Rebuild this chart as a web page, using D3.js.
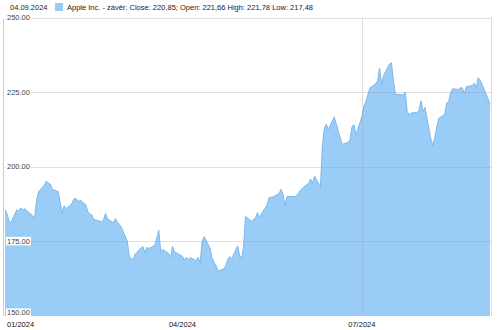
<!DOCTYPE html>
<html>
<head>
<meta charset="utf-8">
<script src="https://cdn.jsdelivr.net/npm/d3@7"></script>
<style>
  body { margin: 0; background: #fff; }
  svg { font-family: "Liberation Sans", Arial, sans-serif; }
</style>
</head>
<body>
<svg width="500" height="330"></svg>
<script>
// AAPL daily close, 02.01.2024 - 04.09.2024
const dates = [
  "2024-01-02","2024-01-03","2024-01-04","2024-01-05","2024-01-08","2024-01-09","2024-01-10","2024-01-11","2024-01-12","2024-01-16",
  "2024-01-17","2024-01-18","2024-01-19","2024-01-22","2024-01-23","2024-01-24","2024-01-25","2024-01-26","2024-01-29","2024-01-30",
  "2024-01-31","2024-02-01","2024-02-02","2024-02-05","2024-02-06","2024-02-07","2024-02-08","2024-02-09","2024-02-12","2024-02-13",
  "2024-02-14","2024-02-15","2024-02-16","2024-02-20","2024-02-21","2024-02-22","2024-02-23","2024-02-26","2024-02-27","2024-02-28",
  "2024-02-29","2024-03-01","2024-03-04","2024-03-05","2024-03-06","2024-03-07","2024-03-08","2024-03-11","2024-03-12","2024-03-13",
  "2024-03-14","2024-03-15","2024-03-18","2024-03-19","2024-03-20","2024-03-21","2024-03-22","2024-03-25","2024-03-26","2024-03-27",
  "2024-03-28","2024-04-01","2024-04-02","2024-04-03","2024-04-04","2024-04-05","2024-04-08","2024-04-09","2024-04-10","2024-04-11",
  "2024-04-12","2024-04-15","2024-04-16","2024-04-17","2024-04-18","2024-04-19","2024-04-22","2024-04-23","2024-04-24","2024-04-25",
  "2024-04-26","2024-04-29","2024-04-30","2024-05-01","2024-05-02","2024-05-03","2024-05-06","2024-05-07","2024-05-08","2024-05-09",
  "2024-05-10","2024-05-13","2024-05-14","2024-05-15","2024-05-16","2024-05-17","2024-05-20","2024-05-21","2024-05-22","2024-05-23",
  "2024-05-24","2024-05-28","2024-05-29","2024-05-30","2024-05-31","2024-06-03","2024-06-04","2024-06-05","2024-06-06","2024-06-07",
  "2024-06-10","2024-06-11","2024-06-12","2024-06-13","2024-06-14","2024-06-17","2024-06-18","2024-06-20","2024-06-21","2024-06-24",
  "2024-06-25","2024-06-26","2024-06-27","2024-06-28","2024-07-01","2024-07-02","2024-07-03","2024-07-05","2024-07-08","2024-07-09",
  "2024-07-10","2024-07-11","2024-07-12","2024-07-15","2024-07-16","2024-07-17","2024-07-18","2024-07-19","2024-07-22","2024-07-23",
  "2024-07-24","2024-07-25","2024-07-26","2024-07-29","2024-07-30","2024-07-31","2024-08-01","2024-08-02","2024-08-05","2024-08-06",
  "2024-08-07","2024-08-08","2024-08-09","2024-08-12","2024-08-13","2024-08-14","2024-08-15","2024-08-16","2024-08-19","2024-08-20",
  "2024-08-21","2024-08-22","2024-08-23","2024-08-26","2024-08-27","2024-08-28","2024-08-29","2024-08-30","2024-09-03","2024-09-04"
];
const closes = [
  185.6,184.3,181.9,181.2,185.6,185.1,186.2,185.6,185.9,183.6,
  182.7,188.6,191.6,193.9,195.2,194.5,194.2,192.4,191.7,188.0,
  184.4,186.9,185.9,187.7,189.3,189.4,188.3,188.9,187.2,185.0,
  184.2,183.9,182.3,181.6,182.3,184.4,182.5,181.2,182.6,181.4,
  180.8,179.7,175.1,170.1,169.1,169.0,170.7,172.8,173.2,171.1,
  173.0,172.6,173.7,176.1,178.7,171.4,172.3,170.9,169.7,173.3,
  171.5,170.0,168.8,169.7,168.8,169.6,168.5,169.7,167.8,175.0,
  176.6,172.7,169.4,168.0,167.0,165.0,165.8,166.9,169.0,169.9,
  169.3,173.5,170.3,169.3,173.0,183.4,181.7,182.4,182.7,184.6,
  183.1,186.3,187.4,189.7,189.8,189.9,191.0,192.4,190.9,186.9,
  190.0,190.0,190.3,191.3,192.3,194.0,194.4,195.9,194.5,196.9,
  193.1,207.2,213.1,214.2,212.5,216.7,214.3,209.7,207.5,208.1,
  209.1,213.3,214.1,210.6,216.8,220.3,221.6,226.3,227.8,228.7,
  233.0,227.6,230.5,234.4,234.8,228.9,224.2,224.3,224.0,225.0,
  218.5,217.5,218.0,218.2,218.8,222.1,218.4,219.9,209.3,207.2,
  209.8,213.3,216.2,217.5,221.3,221.7,224.7,226.1,225.9,226.5,
  226.4,224.5,226.8,227.2,228.0,226.5,229.8,229.0,222.8,220.9
];
const yTicks = [150, 175, 200, 225, 250];
const xTicks = ["2024-01-01", "2024-04-01", "2024-07-01"];
const xGrid = ["2024-07-01"];
const headerDate = "04.09.2024";
const legendText = "Apple Inc. - závěr: Close: 220,85; Open: 221,66 High: 221,78 Low: 217,48";

const parse = d3.timeParse("%Y-%m-%d");
const data = dates.map((d, i) => ({ date: parse(d), close: closes[i] }));

const svg = d3.select("svg");
const plotL = 5, plotR = 490, plotT = 17.5, plotB = 316;

const x = d3.scaleTime()
  .domain(d3.extent(data, d => d.date))
  .range([plotL, plotR]);
const y = d3.scaleLinear().domain([150, 250]).range([plotB, plotT]);

// header
svg.append("text")
  .attr("x", 10).attr("y", 10)
  .attr("font-size", 7.5).attr("fill", "#222")
  .text(headerDate);
svg.append("rect")
  .attr("x", 55).attr("y", 3).attr("width", 8).attr("height", 8)
  .attr("fill", "#99ccf6");
svg.append("text")
  .attr("x", 67).attr("y", 10)
  .attr("font-size", 7.5).attr("fill", "#222")
  .text(legendText);

// area
const area = d3.area()
  .x(d => x(d.date))
  .y0(y(150))
  .y1(d => y(d.close));
svg.append("path")
  .datum(data)
  .attr("d", area)
  .attr("fill", "#99ccf6");
svg.append("path")
  .datum(data)
  .attr("d", d3.line().x(d => x(d.date)).y(d => y(d.close)))
  .attr("fill", "none")
  .attr("stroke", "#7db8ec")
  .attr("stroke-width", 1);

// grid lines over the area
svg.append("g")
  .selectAll("line")
  .data(yTicks.filter(t => t > 150))
  .join("line")
  .attr("x1", plotL).attr("x2", plotR + 2)
  .attr("y1", d => Math.round(y(d)) + 0.5).attr("y2", d => Math.round(y(d)) + 0.5)
  .attr("stroke", "#9a9a9a").attr("stroke-opacity", 0.3);
svg.append("g")
  .selectAll("line")
  .data(xGrid.map(parse))
  .join("line")
  .attr("x1", d => Math.round(x(d)) + 0.5).attr("x2", d => Math.round(x(d)) + 0.5)
  .attr("y1", plotT).attr("y2", plotB)
  .attr("stroke", "#9a9a9a").attr("stroke-opacity", 0.3);

// frame
svg.append("line")
  .attr("x1", 3.5).attr("x2", 3.5).attr("y1", 19).attr("y2", plotB)
  .attr("stroke", "#ccc");
svg.append("line")
  .attr("x1", plotR + 1.5).attr("x2", plotR + 1.5).attr("y1", plotT).attr("y2", plotB)
  .attr("stroke", "#ddd");

// y labels with white boxes (the lowest one sits just above the base line)
const yl = svg.append("g")
  .selectAll("g")
  .data(yTicks)
  .join("g")
  .attr("transform", d => `translate(6,${d === 150 ? y(d) - 3 : y(d)})`);
yl.append("rect")
  .attr("x", 0).attr("y", -4.5).attr("width", 25).attr("height", 8.5)
  .attr("fill", "#fff");
yl.append("text")
  .attr("x", 1).attr("y", 2.4)
  .attr("font-size", 7.5).attr("fill", "#444")
  .text(d => d3.format(".2f")(d));

// x labels
svg.append("g")
  .selectAll("text")
  .data(xTicks.map(parse))
  .join("text")
  .attr("x", (d, i) => i === 0 ? 7 : x(d))
  .attr("y", 327)
  .attr("text-anchor", (d, i) => i === 0 ? "start" : "middle")
  .attr("font-size", 7.5).attr("fill", "#111")
  .text(d3.timeFormat("%m/%Y"));
</script>
</body>
</html>
